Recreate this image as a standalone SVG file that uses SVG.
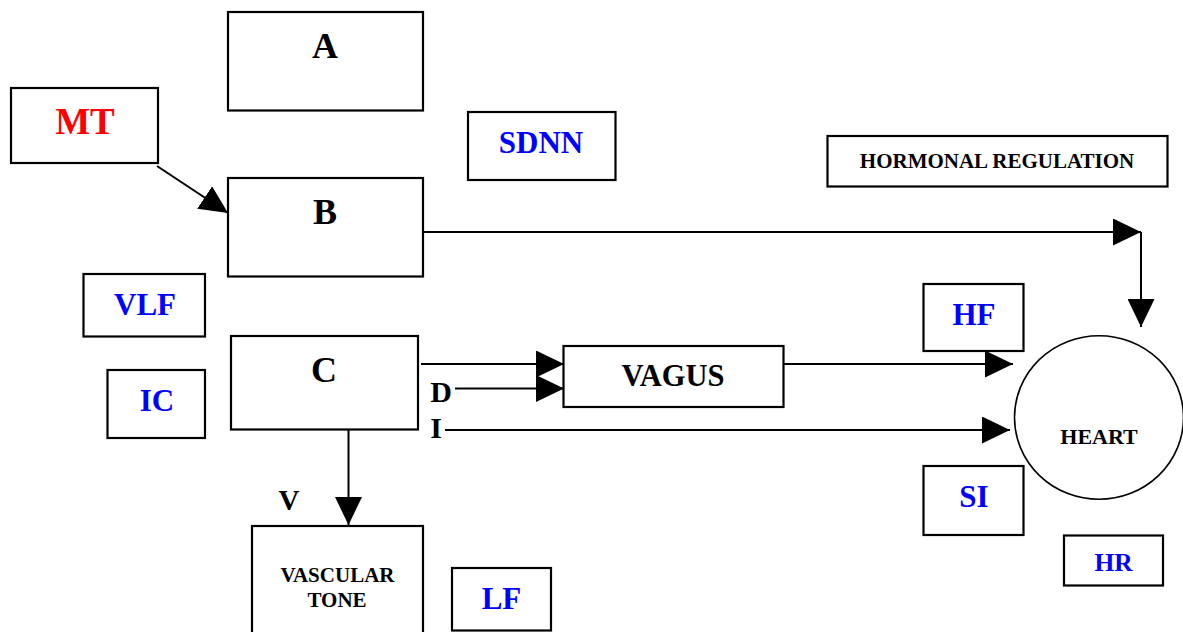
<svg xmlns="http://www.w3.org/2000/svg" width="1183" height="632" viewBox="0 0 1183 632">
<style>
.box{fill:#fff;stroke:#000;stroke-width:2.2}
.t{font-family:"Liberation Serif","Times New Roman",serif;font-weight:bold;text-anchor:middle;fill:#000}
.big{font-size:36px}
.lab{font-size:31px;fill:#0000ff}
.red{font-size:37px;fill:#ff0000}
.sm{font-size:21px}
.con{fill:none;stroke:#000;stroke-width:2}
</style>
<defs>
<marker id="ah" markerUnits="userSpaceOnUse" markerWidth="28" markerHeight="27" refX="28" refY="13.5" orient="auto">
<path d="M0,0 L28,13.5 L0,27 z" fill="#000"/>
</marker>
</defs>
<rect width="1183" height="632" fill="#fff"/>
<g id="connectors">
<path class="con" d="M157,166 L228,213" marker-end="url(#ah)"/>
<path class="con" d="M423,232 L1141,232" marker-end="url(#ah)"/>
<path class="con" d="M1141,232 L1141,327" stroke-width="3" marker-end="url(#ah)"/>
<path class="con" d="M421,364 L564,364" marker-end="url(#ah)"/>
<path class="con" d="M455,388.5 L564,388.5" marker-end="url(#ah)"/>
<path class="con" d="M783,364 L1013,364" stroke-width="1.6" marker-end="url(#ah)"/>
<path class="con" d="M445,430 L1010,430" stroke-width="3" marker-end="url(#ah)"/>
<path class="con" d="M348.5,429 L348.5,525" marker-end="url(#ah)"/>
</g>
<g id="A"><rect class="box" x="228" y="12" width="195" height="98.5"/><text class="t big" x="325" y="58">A</text></g>
<g id="MT"><rect class="box" x="11" y="88" width="147" height="75"/><text class="t red" x="85" y="134">MT</text></g>
<g id="B"><rect class="box" x="228" y="178" width="195" height="98.5"/><text class="t big" x="325" y="224">B</text></g>
<g id="SDNN"><rect class="box" x="468" y="112" width="147.5" height="68"/><text class="t lab" x="541" y="152.5">SDNN</text></g>
<g id="HORMONAL"><rect class="box" x="827.5" y="136" width="340" height="50.5"/><text class="t sm" x="997" y="168">HORMONAL REGULATION</text></g>
<g id="VLF"><rect class="box" x="83.5" y="274" width="121.5" height="62.5"/><text class="t lab" x="145" y="315">VLF</text></g>
<g id="IC"><rect class="box" x="107.5" y="370" width="97.5" height="68"/><text class="t lab" x="157" y="411">IC</text></g>
<g id="C"><rect class="box" x="231" y="336" width="187" height="93.5"/><text class="t big" x="324" y="382">C</text></g>
<g id="VAGUS"><rect class="box" x="563.5" y="346" width="220" height="61"/><text class="t" x="673" y="386" font-size="30.5">VAGUS</text></g>
<g id="D"><text class="t" x="441" y="401.5" font-size="30">D</text></g>
<g id="I"><text class="t" x="436" y="437.5" font-size="30">I</text></g>
<g id="V"><text class="t" x="289" y="510" font-size="29">V</text></g>
<g id="HF"><rect class="box" x="923.5" y="284" width="100" height="67"/><text class="t lab" x="974" y="325">HF</text></g>
<g id="SI"><rect class="box" x="923.5" y="466" width="100" height="69"/><text class="t lab" x="974" y="506.5">SI</text></g>
<g id="HEART"><ellipse cx="1099" cy="417.5" rx="84.5" ry="81.8" fill="#fff" stroke="#000" stroke-width="1.6"/><text class="t" x="1099" y="444" font-size="22">HEART</text></g>
<g id="HR"><rect class="box" x="1064" y="535.5" width="99" height="50"/><text class="t" x="1113.5" y="571" font-size="25.5" fill="#0000ff" style="fill:#0000ff">HR</text></g>
<g id="VASCULAR"><rect class="box" x="252" y="526" width="171" height="120"/><text class="t sm" x="337.5" y="581.5">VASCULAR</text><text class="t sm" x="337" y="606.5">TONE</text></g>
<g id="LF"><rect class="box" x="452" y="568" width="99" height="62.5"/><text class="t lab" x="501.5" y="609">LF</text></g>
</svg>
